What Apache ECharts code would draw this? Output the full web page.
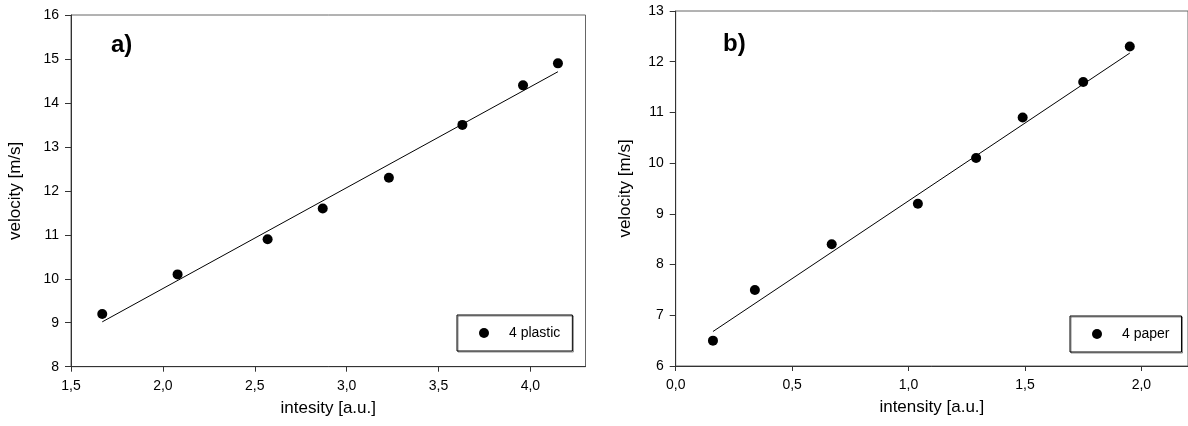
<!DOCTYPE html>
<html>
<head>
<meta charset="utf-8">
<script src="https://cdn.jsdelivr.net/npm/echarts@6/dist/echarts.min.js"></script>
<style>
  html, body { margin: 0; padding: 0; background: #fff; }
  #chart { width: 1188px; height: 426px; }
</style>
</head>
<body>
<div id="chart"></div>
<script>
// a) 4 plastic
const plasticX = [1.67, 2.08, 2.57, 2.87, 3.23, 3.63, 3.96, 4.15];
const plasticY = [9.2, 10.1, 10.9, 11.6, 12.3, 13.5, 14.4, 14.9];
const plasticFit = [[1.67, 9.02], [4.15, 14.71]];

// b) 4 paper
const paperX = [0.16, 0.34, 0.67, 1.04, 1.29, 1.49, 1.75, 1.95];
const paperY = [6.5, 7.5, 8.4, 9.2, 10.1, 10.9, 11.6, 12.3];
const paperFit = [[0.16, 6.68], [1.95, 12.17]];

// tick labels
const plasticXTicks = [1.5, 2.0, 2.5, 3.0, 3.5, 4.0];
const paperXTicks = [0.0, 0.5, 1.0, 1.5, 2.0];

const font = 'Liberation Sans, Arial, sans-serif';
const comma = v => v.toFixed(1).replace('.', ',');

function xAxisOf(idx, min, max, ticks, name) {
    return {
        type: 'value', gridIndex: idx, min: min, max: max,
        name: name, nameLocation: 'middle', nameGap: 33,
        nameTextStyle: { fontFamily: font, fontSize: 17, color: '#000' },
        axisLine: { lineStyle: { color: '#333', width: 1 } },
        axisTick: { show: true, inside: false, length: 5, customValues: ticks, lineStyle: { color: '#333' } },
        axisLabel: { customValues: ticks, formatter: comma, margin: 12, fontFamily: font, fontSize: 14, color: '#000' },
        splitLine: { show: false }
    };
}

function yAxisOf(idx, min, max, gap) {
    return {
        type: 'value', gridIndex: idx, min: min, max: max, interval: 1,
        name: 'velocity [m/s]', nameLocation: 'middle', nameGap: gap,
        nameTextStyle: { fontFamily: font, fontSize: 17, color: '#000' },
        axisLine: { show: true, lineStyle: { color: '#333', width: 1 } },
        axisTick: { show: true, inside: false, length: 6, lineStyle: { color: '#333' } },
        axisLabel: { margin: 12, fontFamily: font, fontSize: 14, color: '#000' },
        splitLine: { show: false }
    };
}

function pairs(xs, ys) {
    return xs.map((x, i) => [x, ys[i]]);
}

function legendOf(left, top, name) {
    return {
        left: left, top: top, orient: 'vertical',
        data: [{ name: name, icon: 'circle' }],
        itemWidth: 10, itemHeight: 10, itemGap: 0,
        padding: [11, 12, 11, 22],
        borderColor: '#000', borderWidth: 1,
        shadowColor: 'rgba(0,0,0,0.45)', shadowOffsetX: 1, shadowOffsetY: 1, shadowBlur: 0,
        textStyle: { fontFamily: font, fontSize: 14, color: '#000', padding: [0, 0, 0, 15] },
        selectedMode: false
    };
}

const chart = echarts.init(document.getElementById('chart'));

chart.setOption({
    animation: false,
    backgroundColor: '#fff',
    title: [
        { text: 'a)', left: 111, top: 33, padding: 0, textStyle: { fontFamily: font, fontSize: 24, fontWeight: 'bold', color: '#000' } },
        { text: 'b)', left: 723, top: 32, padding: 0, textStyle: { fontFamily: font, fontSize: 24, fontWeight: 'bold', color: '#000' } }
    ],
    grid: [
        { left: 71, top: 15, width: 514.5, height: 351.7, show: true, borderColor: '#666', borderWidth: 1 },
        { left: 675.7, top: 11, width: 517.5, height: 355, show: true, borderColor: '#666', borderWidth: 1 }
    ],
    xAxis: [
        xAxisOf(0, 1.5, 4.3, plasticXTicks, 'intesity [a.u.]'),
        xAxisOf(1, 0, 2.2, paperXTicks, 'intensity [a.u.]')
    ],
    yAxis: [
        yAxisOf(0, 8, 16, 47),
        yAxisOf(1, 6, 13, 42)
    ],
    legend: [
        legendOf(457, 315, '4 plastic'),
        legendOf(1070, 316, '4 paper')
    ],
    series: [
        {
            name: '4 plastic', type: 'scatter', xAxisIndex: 0, yAxisIndex: 0,
            symbol: 'circle', symbolSize: 10, itemStyle: { color: '#000', opacity: 1 },
            data: pairs(plasticX, plasticY), z: 3
        },
        {
            type: 'line', xAxisIndex: 0, yAxisIndex: 0, symbol: 'none',
            lineStyle: { color: '#000', width: 1 }, data: plasticFit, z: 2
        },
        {
            name: '4 paper', type: 'scatter', xAxisIndex: 1, yAxisIndex: 1,
            symbol: 'circle', symbolSize: 10, itemStyle: { color: '#000', opacity: 1 },
            data: pairs(paperX, paperY), z: 3
        },
        {
            type: 'line', xAxisIndex: 1, yAxisIndex: 1, symbol: 'none',
            lineStyle: { color: '#000', width: 1 }, data: paperFit, z: 2
        }
    ]
});
</script>
</body>
</html>
